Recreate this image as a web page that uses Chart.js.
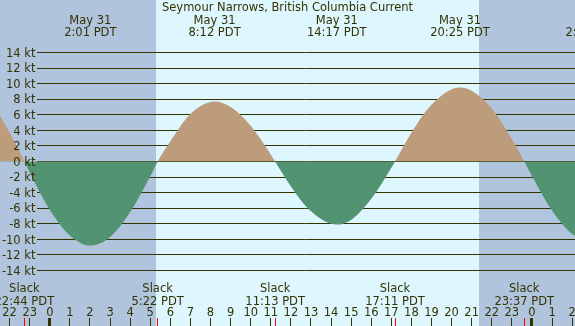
<!DOCTYPE html>
<html>
<head>
<meta charset="utf-8">
<script src="https://cdn.jsdelivr.net/npm/chart.js@4.4.0/dist/chart.umd.min.js"></script>
<style>
  html, body { margin: 0; padding: 0; overflow: hidden; background: #def7ff; }
  #wrap { width: 575px; height: 326px; }
</style>
</head>
<body>
<div id="wrap"><canvas id="tide" width="575" height="326"></canvas></div>
<script>
// station + curve, hours measured from midnight May 31 (PDT)
const title = 'Seymour Narrows, British Columbia Current';
const curveHours = [-4.4, -3, -2, -1.267, -1, 0, 1, 2.017, 3, 4, 5, 5.367, 6, 7, 8.2, 9, 10, 11, 11.217,
  12, 13, 14.283, 15, 16, 17, 17.183, 18, 19, 20.417, 21, 22, 23, 23.617, 24, 25, 26, 26.97];
const curveKnots = [10.3, 7.9, 3.7, 0, -1.4, -6.2, -9.5, -10.8, -9.7, -6.5, -1.9, 0, 2.6, 6.1, 7.7, 7.0, 4.6, 0.9, 0,
  -3.2, -6.4, -8.1, -7.5, -4.8, -0.8, 0, 3.7, 7.3, 9.5, 9.1, 6.8, 2.85, 0, -1.85, -6.3, -9.3, -10.2];

// max flood / ebb labels along the top
const peakHours = [2.017, 8.2, 14.283, 20.417, 26.97];
const peakDates = ['May 31', 'May 31', 'May 31', 'May 31', 'Jun 1'];
const peakTimes = ['2:01 PDT', '8:12 PDT', '14:17 PDT', '20:25 PDT', '2:58 PDT'];

// slack water labels along the bottom
const slackHours = [-1.267, 5.367, 11.217, 17.183, 23.617];
const slackTimes = ['22:44 PDT', '5:22 PDT', '11:13 PDT', '17:11 PDT', '23:37 PDT'];

// night shading (sunset -> sunrise)
const nightStart = [-2.65, 21.37];
const nightEnd = [5.267, 29.25];

// axis ticks
const knotTicks = [14, 12, 10, 8, 6, 4, 2, 0, -2, -4, -6, -8, -10, -12, -14];
const hourLabels = ['22', '23', '0', '1', '2', '3', '4', '5', '6', '7', '8', '9', '10', '11', '12', '13',
  '14', '15', '16', '17', '18', '19', '20', '21', '22', '23', '0', '1', '2'];
const firstHour = -2;

const dayColor = '#def7ff', nightColor = '#b0c4de';
const floodColor = '#bd9c7c', ebbColor = '#529472';
const ink = '#333300', markRed = '#ff0000';
const font = '11.5px "DejaVu Sans"';
const gridLeft = 37;

const xtide = {
  id: 'xtide',
  beforeDraw(chart) {
    const { ctx, chartArea: a, scales: { x } } = chart;
    ctx.save();
    ctx.fillStyle = dayColor;
    ctx.fillRect(a.left, a.top, a.width, a.height);
    ctx.fillStyle = nightColor;
    nightStart.forEach((s, i) => {
      const x0 = Math.max(a.left, Math.round(x.getPixelForValue(s)));
      const x1 = Math.min(a.right, Math.round(x.getPixelForValue(nightEnd[i])));
      if (x1 > x0) ctx.fillRect(x0, a.top, x1 - x0, a.height);
    });
    ctx.restore();
    // keep grid lines clear of the knot labels
    ctx.save();
    ctx.beginPath();
    ctx.rect(gridLeft, a.top, a.right - gridLeft, a.height);
    ctx.clip();
  },
  beforeDatasetsDraw(chart) {
    chart.ctx.restore();
  },
  afterDraw(chart) {
    const { ctx, chartArea: a, scales: { x, y } } = chart;
    ctx.save();
    ctx.font = font;
    ctx.fillStyle = ink;
    ctx.textBaseline = 'alphabetic';

    ctx.textAlign = 'center';
    ctx.fillText(title, (a.left + a.right) / 2, 11.3);
    peakHours.forEach((h, i) => {
      const px = x.getPixelForValue(h);
      ctx.fillText(peakDates[i], px, 24);
      ctx.fillText(peakTimes[i], px, 36.3);
    });
    slackHours.forEach((h, i) => {
      const px = x.getPixelForValue(h);
      ctx.fillText('Slack', px, 292);
      ctx.fillText(slackTimes[i], px, 304.5);
    });
    hourLabels.forEach((lab, i) => {
      ctx.fillText(lab, x.getPixelForValue(firstHour + i), 316);
    });

    ctx.textAlign = 'right';
    knotTicks.forEach(v => ctx.fillText(v + ' kt', 35.5, y.getPixelForValue(v) + 4.2));

    // hour ticks, wide at midnight
    ctx.fillStyle = ink;
    hourLabels.forEach((lab, i) => {
      const px = Math.floor(x.getPixelForValue(firstHour + i));
      if (lab === '0') ctx.fillRect(px - 1, 318, 3, 8);
      else ctx.fillRect(px, 318, 1, 8);
    });
    ctx.fillStyle = markRed;
    slackHours.forEach(h => {
      ctx.fillRect(Math.floor(x.getPixelForValue(h)), 318, 1, 8);
    });
    ctx.restore();
  }
};

// y: 0 kt at pixel 161.5, 7.786 px per knot; x: 0h at 49.8, 20.09 px per hour
const pxPerKnot = 7.786, zeroPx = 161.5;
const yMax = zeroPx / pxPerKnot, yMin = yMax - 326 / pxPerKnot;
const pxPerHour = 20.09, midnightPx = 49.8;
const xMin = -midnightPx / pxPerHour, xMax = (575 - midnightPx) / pxPerHour;

new Chart(document.getElementById('tide'), {
  type: 'line',
  data: {
    datasets: [{
      data: curveHours.map((h, i) => ({ x: h, y: curveKnots[i] })),
      fill: { target: 'origin', above: floodColor, below: ebbColor },
      borderColor: 'rgba(0,0,0,0)',
      borderWidth: 0,
      pointRadius: 0,
      cubicInterpolationMode: 'monotone'
    }]
  },
  options: {
    responsive: false,
    animation: false,
    events: [],
    layout: { padding: 0 },
    plugins: { legend: { display: false }, tooltip: { enabled: false } },
    scales: {
      x: { type: 'linear', min: xMin, max: xMax, display: false },
      y: {
        min: yMin, max: yMax,
        afterBuildTicks: s => { s.ticks = knotTicks.map(v => ({ value: v })); },
        ticks: { display: false },
        grid: { color: ink, lineWidth: 1, drawTicks: false },
        border: { display: false }
      }
    }
  },
  plugins: [xtide]
});
</script>
</body>
</html>
